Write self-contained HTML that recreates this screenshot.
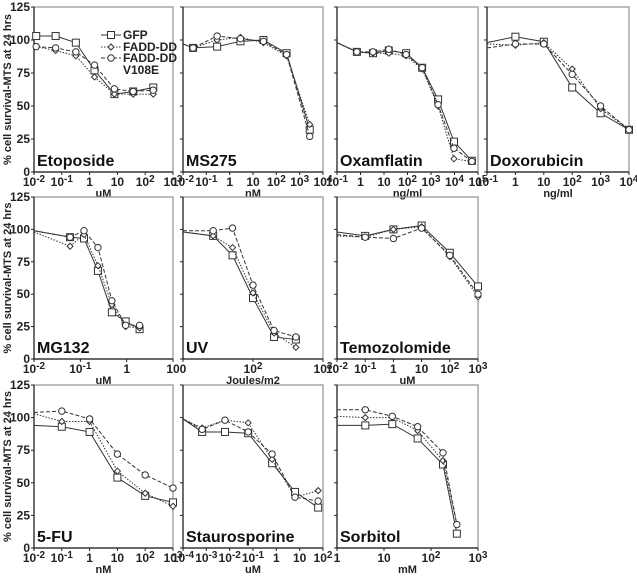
<!DOCTYPE html>
<html><head><meta charset="utf-8"><style>
body{margin:0;background:#fff}
svg{display:block;font-family:"Liberation Sans",Arial,sans-serif}
</style></head><body>
<svg id="c" width="637" height="577" viewBox="0 0 637 577"></svg>
<script>
// ---- data ----
const panelNames=['Etoposide','MS275','Oxamflatin','Doxorubicin','MG132','UV','Temozolomide','5-FU','Staurosporine','Sorbitol'];
const unitLabels=['uM','nM','ng/ml','ng/ml','uM','Joules/m2','uM','nM','uM','mM'];
const xDomains=[[0.01,1000],[0.01,10000],[0.1,100000],[0.1,10000],[0.01,10],[10,1000],[0.01,1000],[0.01,1000],[0.0001,100],[1,1000]];
const tickValues=[
 [0.01,0.1,1,10,100,1000],[0.01,0.1,1,10,100,1000,10000],[0.1,1,10,100,1000,10000,100000],[0.1,1,10,100,1000,10000],
 [0.01,0.1,1,10],[10,100,1000],[0.01,0.1,1,10,100,1000],[0.01,0.1,1,10,100,1000],[0.0001,0.001,0.01,0.1,1,10,100],[1,10,100,1000]];
const tickLabels=[
 ['10^-2','10^-1','1','10','10^2','10^3'],['10^-2','10^-1','1','10','10^2','10^3','10^4'],['10^-1','1','10','10^2','10^3','10^4','10^5'],['10^-1','1','10','10^2','10^3','10^4'],
 ['10^-2','10^-1','1','10'],['0','10^2','10^3'],['10^-2','10^-1','1','10','10^2','10^3'],['10^-2','10^-1','1','10','10^2','10^3'],['10^-4','10^-3','10^-2','10^-1','1','10','10^2'],['1','10','10^2','10^3']];
const xVals=[
 [0.012,0.06,0.32,1.5,7.8,37,195],
 [0.01,0.027,0.29,2.9,28,275,2700],
 [0.1,0.7,3.4,16,87,420,2000,9500,55000],
 [0.1,1,10,100,1000,10000],
 [0.01,0.06,0.12,0.24,0.48,0.95,1.9],
 [10,27,51,100,200,410],
 [0.01,0.1,1,10,100,1000],
 [0.01,0.1,1,10,100,1000],
 [0.0001,0.00066,0.0063,0.062,0.66,6.3,62],
 [1,4,15,52,180,355]];
const gfpVals=[
 [103,103,98,77,59,61,64],[97,94,95,99,100,90,32],[98,91,90,92,90,79,55,23,8.5],[98,102.5,98.7,64,44.5,32],
 [99,94,93,68,36,29,23],[98,95,80,47,17,15],[98,95,100,103,82,56],[94,93,89,54,40,35],[99,89,89,88,65,43,31],[94,94,95,84,64,11]];
const faddVals=[
 [95,92,88,72,59,59,59],[97,94,100,102,98,88,36],[98,91,90,90,88,78,50,10,8],[97,96,98,78,48,32],
 [98,87,96,72,42,25,24],[98,95,86,51,20,9],[95,94,100,102,79,48],[103,97,97,59,42,32],[99,92,98,96,68,39,44],[101,100,100,90,67,18]];
const v108eVals=[
 [95,94,91,81,63,61,62],[97,94,103,101,99,89,27],[98,91,91,93,89,79,51,18,8],[94,97,97,74,50,32],
 [99,94,99,86,45,26,26],[99,99,101,57,22,17],[96,94,93,101,80,50],[104,105,99,72,56,46],[99,91,98,89,72,39,36],[106,106,101,93,73,18]];
const yTicks=[0,25,50,75,100,125];
// ---- layout ----
const cols=[[34,173],[183,323],[337,478],[487,629]];
const rows=[[7,172],[197,359],[385,548]];
const slots=[[0,0],[0,1],[0,2],[0,3],[1,0],[1,1],[1,2],[2,0],[2,1],[2,2]];
const NS='http://www.w3.org/2000/svg';
const svg=document.getElementById('c');
function mk(t,a,p){const e=document.createElementNS(NS,t);for(const k in a)e.setAttribute(k,a[k]);(p||svg).appendChild(e);return e;}
function lbl(parent,x,y,s,size){
 const t=mk('text',{x:x,y:y,'text-anchor':'middle','font-size':size,'font-weight':'bold',fill:'#222'},parent);
 const parts=s.split('^');
 const a=document.createElementNS(NS,'tspan');a.textContent=parts[0];t.appendChild(a);
 if(parts[1]){const b=document.createElementNS(NS,'tspan');b.setAttribute('dy','-4');b.setAttribute('font-size',size-2);b.textContent=parts[1];t.appendChild(b);}
 return t;
}
const series=[{d:gfpVals,dash:'',m:'sq',name:'gfp'},{d:faddVals,dash:'1.5,1.5',m:'di',name:'fadd-dd'},{d:v108eVals,dash:'4,2',m:'ci',name:'fadd-dd-v108e'}];
panelNames.forEach((nm,i)=>{
 const [r,c]=slots[i];const [x0,x1]=cols[c];const [y0,y1]=rows[r];
 const g=mk('g',{});
 
 
 const [d0,d1]=xDomains[i];
 const X=v=>x0+(Math.log10(v)-Math.log10(d0))/(Math.log10(d1)-Math.log10(d0))*(x1-x0);
 const Y=v=>y1-v/125*(y1-y0);
 const box=mk('rect',{x:x0,y:y0,width:x1-x0,height:y1-y0,fill:'none',stroke:'#999','stroke-width':1.3},g);
 
 mk('line',{x1:x0,y1:y0,x2:x0,y2:y1+1,stroke:'#222','stroke-width':1.2},g);
 mk('line',{x1:x0,y1:y1,x2:x1,y2:y1,stroke:'#222','stroke-width':1.2},g);
 yTicks.forEach(v=>{mk('line',{x1:x0-3,y1:Y(v),x2:x0,y2:Y(v),stroke:'#222'},g);
  if(c===0){const t=mk('text',{x:x0-4,y:Y(v)+4,'text-anchor':'end','font-size':12,'font-weight':'bold',fill:'#222'},g);t.textContent=v;
   }});
 tickValues[i].forEach((v,k)=>{mk('line',{x1:X(v),y1:y1,x2:X(v),y2:y1+3,stroke:'#222'},g);
  const t=lbl(g,X(v),y1+14,tickLabels[i][k],12);
  });
 const u=mk('text',{x:(x0+x1)/2,y:y1+25,'text-anchor':'middle','font-size':11,'font-weight':'bold',fill:'#222'},g);u.textContent=unitLabels[i];
 
 const pl=mk('text',{x:x0+3,y:y1-6,'font-size':16,'font-weight':'bold',fill:'#111'},g);pl.textContent=nm;
 
 series.forEach(s=>{
  const ys=s.d[i];const pts=xVals[i].map((xv,k)=>[X(xv),Y(ys[k])]);
  const p=mk('polyline',{points:pts.map(q=>q.join(',')).join(' '),fill:'none',stroke:'#333','stroke-width':1,'stroke-dasharray':s.dash},g);
  
  pts.forEach((q,k)=>{
   if(xVals[i][k]<=d0)return;
   let e;
   if(s.m==='sq')e=mk('rect',{x:q[0]-3.5,y:q[1]-3.5,width:7,height:7,fill:'#fff',stroke:'#333'},g);
   else if(s.m==='di')e=mk('polygon',{points:`${q[0]},${q[1]-3} ${q[0]+3},${q[1]} ${q[0]},${q[1]+3} ${q[0]-3},${q[1]}`,fill:'#fff',stroke:'#333'},g);
   else e=mk('circle',{cx:q[0],cy:q[1],r:3.2,fill:'#fff',stroke:'#333'},g);
   
  });
 });
});
// y axis titles
rows.forEach((r,k)=>{const t=mk('text',{x:0,y:0,transform:`translate(11,${(r[0]+r[1])/2}) rotate(-90)`,'text-anchor':'middle','font-size':11,'font-weight':'bold',fill:'#222'});
 t.textContent='% cell survival-MTS at 24 hrs';});
// legend
const lg=mk('g',{});
const legendRows=[['GFP','',35,'sq'],['FADD-DD','1.5,1.5',47,'di'],['FADD-DD','4,2',58,'ci']];
legendRows.forEach(l=>{const y=l[2];mk('line',{x1:101,y1:y,x2:121,y2:y,stroke:'#333','stroke-dasharray':l[1]},lg);
 if(l[3]==='sq')mk('rect',{x:107.5,y:y-3.5,width:7,height:7,fill:'#fff',stroke:'#333'},lg);
 else if(l[3]==='di')mk('polygon',{points:`111,${y-3} 114,${y} 111,${y+3} 108,${y}`,fill:'#fff',stroke:'#333'},lg);
 else mk('circle',{cx:111,cy:y,r:3.2,fill:'#fff',stroke:'#333'},lg);
 const t=mk('text',{x:123,y:y+4,'font-size':12,'font-weight':'bold',fill:'#222'},lg);t.textContent=l[0];
 });
const t2=mk('text',{x:123,y:74,'font-size':12,'font-weight':'bold',fill:'#222'},lg);t2.textContent='V108E';

</script>
</body></html>
